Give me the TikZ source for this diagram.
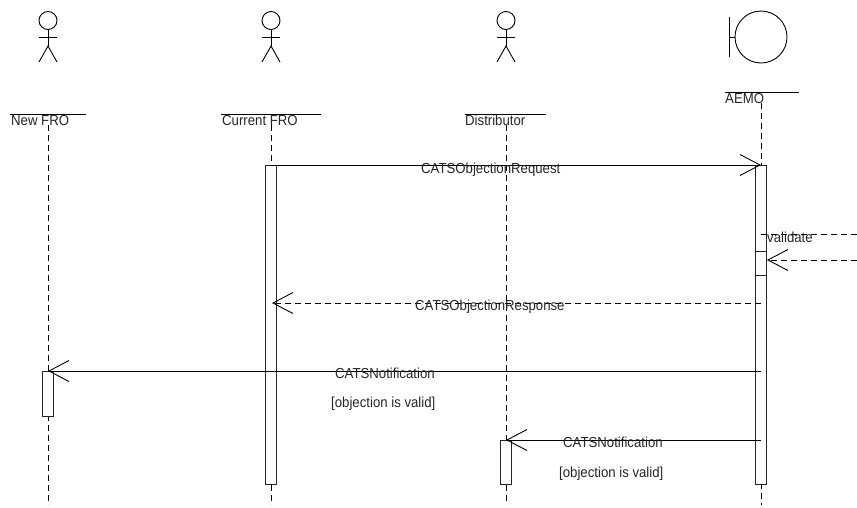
\documentclass[tikz,border=0pt]{standalone}
\usepackage{fontspec}
\setmainfont[FakeStretch=0.91]{Liberation Sans}
\usetikzlibrary{arrows.meta}
\tikzset{
  ln/.style={draw=black,line width=0.9pt},
  lifeline/.style={ln,dash pattern=on 6pt off 4pt},
  activation/.style={draw=black!85,line width=0.9pt,fill=white,minimum width=10.5pt,inner sep=0pt,anchor=north},
  msg/.style={ln,-{Straight Barb[length=20pt,width=21pt,line width=0.9pt]}},
  reply/.style={msg,dash pattern=on 6pt off 4pt},
  txt/.style={font=\fontsize{14.5}{16}\selectfont,inner sep=0pt,anchor=base west,text=black!85},
}
\begin{document}
\begin{tikzpicture}[x=1pt,y=-1pt]
\useasboundingbox (0,0) rectangle (857,507);
% actors
\foreach \n/\x in {a/48,b/271,c/506}{
  \node[ln,circle,minimum size=18pt,inner sep=0pt] (head\n) at (\x,20.5) {};
  \coordinate (hip\n) at (\x,46);
  \coordinate (armL\n) at (\x-9,37);
  \coordinate (armR\n) at (\x+9,37);
  \coordinate (footL\n) at (\x-9,62);
  \coordinate (footR\n) at (\x+9,62);
  \draw[ln] (head\n.south) -- (hip\n);
  \draw[ln] (armL\n) -- (armR\n);
  \draw[ln] (footL\n) -- (hip\n) -- (footR\n);
}
% boundary
\node[ln,circle,minimum size=52pt,inner sep=0pt] (bnd) at (761,37) {};
\coordinate (barT) at (729,17);
\coordinate (barB) at (729,57);
\coordinate (barM) at (729,37);
\draw[ln] (barT) -- (barB);
\draw[ln] (barM) -- (bnd.west);
% name underlines
\coordinate (ulA1) at (10,114);  \coordinate (ulA2) at (86,114);
\coordinate (ulB1) at (221,114); \coordinate (ulB2) at (321,114);
\coordinate (ulC1) at (465,114); \coordinate (ulC2) at (546,114);
\coordinate (ulD1) at (725,92);  \coordinate (ulD2) at (799,92);
\draw[ln] (ulA1) -- (ulA2);
\draw[ln] (ulB1) -- (ulB2);
\draw[ln] (ulC1) -- (ulC2);
\draw[ln] (ulD1) -- (ulD2);
% lifelines
\coordinate (lfA1) at (48,125);  \coordinate (lfA2) at (48,505);
\coordinate (lfB1) at (271,125); \coordinate (lfB2) at (271,505);
\coordinate (lfC1) at (506,125); \coordinate (lfC2) at (506,505);
\coordinate (lfD1) at (761,103); \coordinate (lfD2) at (761,505);
\draw[lifeline] (lfA1) -- (lfA2);
\draw[lifeline] (lfB1) -- (lfB2);
\draw[lifeline] (lfC1) -- (lfC2);
\draw[lifeline] (lfD1) -- (lfD2);
% activations
\node[activation,minimum height=319pt] (actB) at (271,165) {};
\node[activation,minimum height=319pt] (actD) at (761,165) {};
\node[activation,minimum height=24pt] (actV) at (761,251) {};
\node[activation,minimum height=45pt] (actA) at (48,371) {};
\node[activation,minimum height=44pt] (actC) at (506,440) {};
% messages
\coordinate (m1s) at (271,165); \coordinate (m1e) at (761,165);
\coordinate (m2s) at (761,303); \coordinate (m2e) at (272,303);
\coordinate (m3s) at (761,371); \coordinate (m3e) at (48,371);
\coordinate (m4s) at (761,440); \coordinate (m4e) at (506,440);
\coordinate (v1) at (761,234); \coordinate (v2) at (857,234);
\coordinate (v3) at (857,260); \coordinate (v4) at (767,260);
\draw[msg] (m1s) -- (m1e);
\draw[reply] (m2s) -- (m2e);
\draw[msg] (m3s) -- (m3e);
\draw[msg] (m4s) -- (m4e);
\draw[lifeline] (v1) -- (v2);
\draw[reply] (v3) -- (v4);
% labels
\node[txt] (tA) at (11,125) {New FRO};
\node[txt] (tB) at (222,125) {Current FRO};
\node[txt] (tC) at (465,125) {Distributor};
\node[txt] (tD) at (725,103) {AEMO};
\node[txt] (l1) at (421,173) {CATSObjectionRequest};
\node[txt] (l2) at (767,242) {validate};
\node[txt] (l3) at (415,310) {CATSObjectionResponse};
\node[txt] (l4) at (335,378) {CATSNotification};
\node[txt] (l5) at (331,407) {[objection is valid]};
\node[txt] (l6) at (563,447) {CATSNotification};
\node[txt] (l7) at (559,477) {[objection is valid]};
\end{tikzpicture}
\end{document}
